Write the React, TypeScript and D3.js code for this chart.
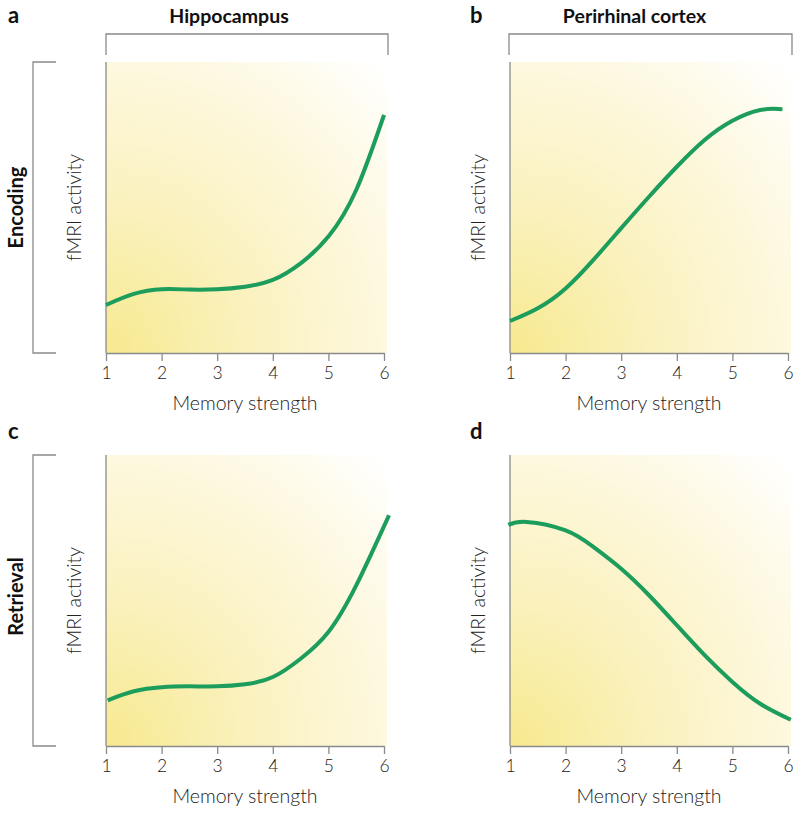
import React, { useEffect, useRef } from 'react';
import * as d3 from 'd3';

// memory strength ticks shared by all panels
const memoryTicks = [1, 2, 3, 4, 5, 6];

// a: hippocampus, encoding
const hippEncX = [1, 1.5, 2, 2.5, 3, 3.5, 4, 4.5, 5, 5.5, 6];
const hippEncY = [0.165, 0.203, 0.219, 0.218, 0.219, 0.228, 0.251, 0.308, 0.4, 0.56, 0.818];

// b: perirhinal cortex, encoding
const periEncX = [1, 1.5, 2, 2.5, 3, 3.5, 4, 4.5, 5, 5.5, 5.9];
const periEncY = [0.11, 0.154, 0.222, 0.32, 0.429, 0.537, 0.64, 0.732, 0.798, 0.835, 0.838];

// c: hippocampus, retrieval
const hippRetX = [1.03, 1.5, 2, 2.5, 3, 3.5, 4, 4.5, 5, 5.5, 6.09];
const hippRetY = [0.157, 0.188, 0.202, 0.205, 0.205, 0.212, 0.237, 0.3, 0.392, 0.552, 0.793];

// d: perirhinal cortex, retrieval
const periRetX = [0.97, 1.3, 2, 2.5, 3, 3.5, 4, 4.5, 5, 5.5, 6.05];
const periRetY = [0.76, 0.77, 0.741, 0.684, 0.609, 0.518, 0.415, 0.312, 0.22, 0.145, 0.09];

const columnTitles = ['Hippocampus', 'Perirhinal cortex'];
const rowTitles = ['Encoding', 'Retrieval'];
const panelLetters = ['a', 'b', 'c', 'd'];

const FONT = 'Lato, "Open Sans", sans-serif';
const GREY = '#8a8a8a';
const GREEN = '#1c9d5c';
const TEXT = '#222';

export default function App() {
  const ref = useRef<SVGSVGElement>(null);

  useEffect(() => {
    document.body.style.margin = '0';
    const svg = d3.select(ref.current);
    svg.selectAll('*').remove();

    const defs = svg.append('defs');
    const grad = defs.append('radialGradient')
      .attr('id', 'bg')
      .attr('cx', 0).attr('cy', 1).attr('r', 1.4)
      .attr('fx', 0).attr('fy', 1);
    grad.append('stop').attr('offset', '0%').attr('stop-color', '#f7e98f');
    grad.append('stop').attr('offset', '35%').attr('stop-color', '#faf1bc');
    grad.append('stop').attr('offset', '70%').attr('stop-color', '#fdf8de');
    grad.append('stop').attr('offset', '100%').attr('stop-color', '#ffffff');

    const panels = [
      { xs: hippEncX, ys: hippEncY, left: 106, top: 62, letterY: 23 },
      { xs: periEncX, ys: periEncY, left: 510, top: 62, letterY: 23 },
      { xs: hippRetX, ys: hippRetY, left: 106, top: 455, letterY: 439 },
      { xs: periRetX, ys: periRetY, left: 510, top: 455, letterY: 439 },
    ];
    const w = 278;
    const h = 291;

    panels.forEach((p, i) => {
      const g = svg.append('g').attr('transform', `translate(${p.left},${p.top})`);
      const x = d3.scaleLinear().domain([1, 6]).range([0, w]);
      const y = d3.scaleLinear().domain([0, 1]).range([h, 0]);

      g.append('rect')
        .attr('x', 0).attr('y', 0)
        .attr('width', w + 3).attr('height', h)
        .attr('fill', 'url(#bg)');

      // axes
      const xAxis = g.append('g')
        .attr('transform', `translate(0,${h})`)
        .call(d3.axisBottom(x).tickValues(memoryTicks).tickFormat(d3.format('d'))
          .tickSize(8).tickPadding(6).tickSizeOuter(0));
      xAxis.select('.domain').attr('stroke', GREY).attr('stroke-width', 1.3);
      xAxis.selectAll('.tick line').attr('stroke', GREY).attr('stroke-width', 1.3);
      xAxis.selectAll('.tick text')
        .attr('font-family', FONT)
        .attr('font-size', 17.5)
        .attr('font-weight', 300)
        .attr('fill', TEXT);

      g.append('line')
        .attr('x1', 0).attr('x2', 0)
        .attr('y1', 0).attr('y2', h)
        .attr('stroke', GREY).attr('stroke-width', 1.3);

      const line = d3.line<number>()
        .x((d, k) => x(p.xs[k]))
        .y(d => y(d))
        .curve(d3.curveNatural);

      g.append('path')
        .attr('d', line(p.ys))
        .attr('fill', 'none')
        .attr('stroke', GREEN)
        .attr('stroke-width', 4)
        .attr('stroke-linecap', 'butt');

      g.append('text')
        .attr('x', w / 2).attr('y', h + 57)
        .attr('text-anchor', 'middle')
        .attr('font-family', FONT).attr('font-size', 19.5).attr('font-weight', 300)
        .attr('fill', TEXT)
        .text('Memory strength');

      g.append('text')
        .attr('transform', `translate(-25,${h / 2}) rotate(-90)`)
        .attr('text-anchor', 'middle')
        .attr('font-family', FONT).attr('font-size', 19.5).attr('font-weight', 300)
        .attr('fill', TEXT)
        .text('fMRI activity');

      svg.append('text')
        .attr('x', i % 2 === 0 ? 8 : 470)
        .attr('y', p.letterY)
        .attr('font-family', FONT).attr('font-size', 22).attr('font-weight', 700)
        .attr('fill', '#111')
        .text(panelLetters[i]);
    });

    // column brackets
    [[106, 388], [509, 792]].forEach(([x0, x1], i) => {
      svg.append('path')
        .attr('d', `M${x0},55V34H${x1}V55`)
        .attr('fill', 'none').attr('stroke', GREY).attr('stroke-width', 1.3);
      svg.append('text')
        .attr('x', (x0 + x1) / 2 - 18 + i * 2).attr('y', 23)
        .attr('text-anchor', 'middle')
        .attr('font-family', FONT).attr('font-size', 19.5).attr('font-weight', 700)
        .attr('fill', '#111')
        .text(columnTitles[i]);
    });

    // row brackets
    [[62, 353], [455, 746]].forEach(([y0, y1], i) => {
      svg.append('path')
        .attr('d', `M56,${y0}H33V${y1}H56`)
        .attr('fill', 'none').attr('stroke', GREY).attr('stroke-width', 1.3);
      svg.append('text')
        .attr('transform', `translate(23,${(y0 + y1) / 2 - (i ? 4 : 0)}) rotate(-90)`)
        .attr('text-anchor', 'middle')
        .attr('font-family', FONT).attr('font-size', 20).attr('font-weight', 700)
        .attr('fill', '#111')
        .text(rowTitles[i]);
    });
  }, []);

  return <svg ref={ref} width={800} height={816} style={{ display: 'block', background: '#fff' }} />;
}
